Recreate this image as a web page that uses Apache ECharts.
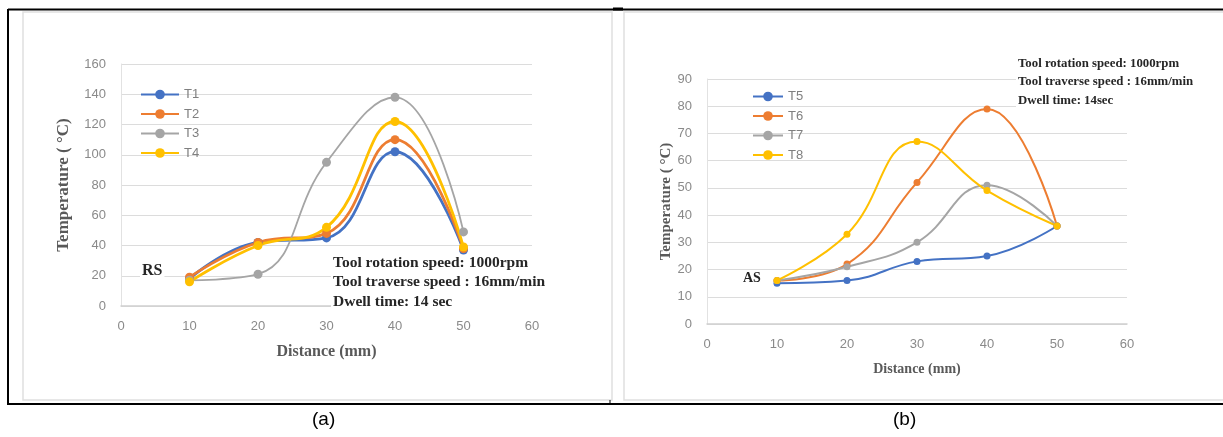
<!DOCTYPE html>
<html>
<head>
<meta charset="utf-8">
<script src="https://cdn.jsdelivr.net/npm/echarts@6/dist/echarts.min.js"></script>
<style>
  html, body { margin: 0; padding: 0; background: #fff; }
  #main { width: 1223px; height: 437px; }
</style>
</head>
<body>
<div id="main"></div>
<script>
// distance (mm)
let distance = [10, 20, 30, 40, 50];

// (a) RS side
let namesA = ['T1', 'T2', 'T3', 'T4'];
let t1 = [18, 42, 45, 102, 37];
let t2 = [19, 42, 48, 110, 38];
let t3 = [17, 21, 95, 138, 49];
let t4 = [16, 40, 52, 122, 39];

// (b) AS side
let namesB = ['T5', 'T6', 'T7', 'T8'];
let t5 = [15, 16, 23, 25, 36];
let t6 = [16, 22, 52, 79, 36];
let t7 = [16, 21, 30, 51, 36];
let t8 = [16, 33, 67, 49, 36];

let colors = ['#4472c4', '#ed7d31', '#a5a5a5', '#ffc000'];
let serif = '"Liberation Serif", "DejaVu Serif", serif';
let sans = '"Liberation Sans", Arial, sans-serif';

function pairs(ys) {
	return distance.map((x, i) => [x, ys[i]]);
}

function makeSeries(names, lists, idx, width, size) {
	return names.map((n, i) => ({
		name: n,
		type: 'line',
		xAxisIndex: idx,
		yAxisIndex: idx,
		data: pairs(lists[i]),
		smooth: 0.45,
		symbol: 'circle',
		symbolSize: size,
		color: colors[i],
		lineStyle: { width: (i == 2 && idx == 0) ? 1.8 : width },
		z: 5
	}));
}

function xAxisOf(idx, gap, fs) {
	return {
		type: 'value', gridIndex: idx, min: 0, max: 60, interval: 10,
		name: 'Distance (mm)', nameLocation: 'middle', nameGap: gap,
		nameTextStyle: { fontFamily: serif, fontWeight: 'bold', fontSize: fs, color: '#595959' },
		axisLine: { show: true, lineStyle: { color: '#cfcfcf', width: 1.5 } },
		axisTick: { show: false },
		splitLine: { show: false },
		axisLabel: { color: '#8a8a8a', fontFamily: sans, fontSize: 13, margin: 14 }
	};
}

function yAxisOf(idx, max, step, gap, fs) {
	return {
		type: 'value', gridIndex: idx, min: 0, max: max, interval: step,
		name: 'Temperature ( °C)', nameLocation: 'middle', nameGap: gap, nameRotate: 90,
		nameTextStyle: { fontFamily: serif, fontWeight: 'bold', fontSize: fs, color: '#595959' },
		axisLine: { show: true, lineStyle: { color: '#e2e2e2' } },
		axisTick: { show: false },
		splitLine: { lineStyle: { color: '#dcdcdc', width: 1 } },
		axisLabel: { color: '#8a8a8a', fontFamily: sans, fontSize: 13, margin: 15 }
	};
}

let myChart = echarts.init(document.getElementById('main'), null, { renderer: 'canvas' });

let option = {
	backgroundColor: '#fff',
	animation: false,
	grid: [
		{ left: 121, right: 691, top: 64, bottom: 131 },
		{ left: 707, right: 96, top: 79, bottom: 113 }
	],
	xAxis: [xAxisOf(0, 38, 16), xAxisOf(1, 38, 14)],
	yAxis: [yAxisOf(0, 160, 20, 49, 17), yAxisOf(1, 90, 10, 32, 15)],
	legend: [
		{
			data: namesA, orient: 'vertical', left: 135, top: 83,
			itemWidth: 38, itemHeight: 12, itemGap: 6.5,
			textStyle: { color: '#7f7f7f', fontFamily: sans, fontSize: 13, lineHeight: 12 }
		},
		{
			data: namesB, orient: 'vertical', left: 747, top: 85,
			itemWidth: 30, itemHeight: 12, itemGap: 6.5,
			textStyle: { color: '#7f7f7f', fontFamily: sans, fontSize: 13, lineHeight: 12 }
		}
	],
	series: makeSeries(namesA, [t1, t2, t3, t4], 0, 2.8, 9)
		.concat(makeSeries(namesB, [t5, t6, t7, t8], 1, 2, 7)),
	graphic: [
		// 外框
		{ type: 'rect', shape: { x: 23, y: 12, width: 589, height: 388 }, style: { fill: 'none', stroke: '#e0e0e0', lineWidth: 1.5 }, z: 0 },
		{ type: 'rect', shape: { x: 624, y: 12, width: 605, height: 388 }, style: { fill: 'none', stroke: '#e0e0e0', lineWidth: 1.5 }, z: 0 },
		{ type: 'line', shape: { x1: 8, y1: 9.5, x2: 1223, y2: 9.5 }, style: { stroke: '#000', lineWidth: 2 } },
		{ type: 'line', shape: { x1: 8, y1: 404, x2: 1223, y2: 404 }, style: { stroke: '#000', lineWidth: 2 } },
		{ type: 'line', shape: { x1: 8, y1: 9, x2: 8, y2: 405 }, style: { stroke: '#000', lineWidth: 2 } },
		{ type: 'line', shape: { x1: 613, y1: 9, x2: 623, y2: 9 }, style: { stroke: '#000', lineWidth: 3 } },
		{ type: 'line', shape: { x1: 610, y1: 400, x2: 610, y2: 404 }, style: { stroke: '#000', lineWidth: 1 } },
		// 注释文字
		{ type: 'text', left: 140, top: 262, z: 1, style: { text: 'RS', font: 'bold 16px ' + serif, fill: '#262626', backgroundColor: '#fff', padding: [1, 2] } },
		{ type: 'text', left: 741, top: 270, z: 1, style: { text: 'AS', font: 'bold 14px ' + serif, fill: '#262626', backgroundColor: '#fff', padding: [1, 2] } },
		{ type: 'text', left: 331, top: 252, z: 1, style: {
			text: 'Tool rotation speed: 1000rpm\nTool traverse speed : 16mm/min\nDwell time: 14 sec',
			font: 'bold 15.5px ' + serif, lineHeight: 19.5, fill: '#262626', backgroundColor: '#fff', padding: [1, 2] } },
		{ type: 'text', left: 1016, top: 53, z: 1, style: {
			text: 'Tool rotation speed: 1000rpm\nTool traverse speed : 16mm/min\nDwell time: 14sec',
			font: 'bold 12.8px ' + serif, lineHeight: 18.5, fill: '#262626', backgroundColor: '#fff', padding: [1, 2] } },
		// 图号
		{ type: 'text', left: 312, top: 410, style: { text: '(a)', font: '19px ' + sans, fill: '#000' } },
		{ type: 'text', left: 893, top: 410, style: { text: '(b)', font: '19px ' + sans, fill: '#000' } }
	]
};
myChart.setOption(option);
</script>
</body>
</html>
